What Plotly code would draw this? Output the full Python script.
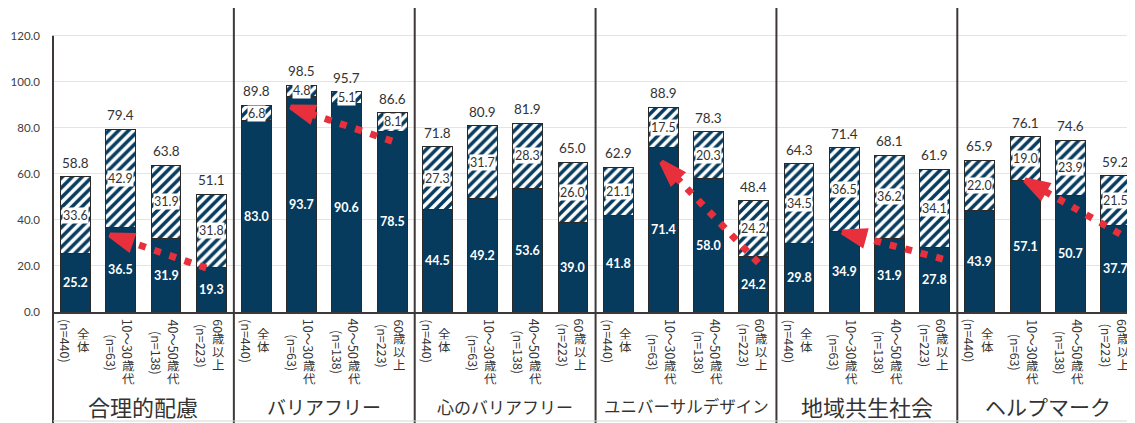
import plotly.graph_objects as go

# survey categories and age bands
GROUPS = ["合理的配慮", "バリアフリー", "心のバリアフリー",
          "ユニバーサルデザイン", "地域共生社会", "ヘルプマーク"]
AGES = ["全体", "10～30歳代", "40～50歳代", "60歳以上"]
N_SIZES = [440, 63, 138, 223]

# navy part (solid) and hatched part, per group, per age band
SOLID = [
    [25.2, 36.5, 31.9, 19.3],
    [83.0, 93.7, 90.6, 78.5],
    [44.5, 49.2, 53.6, 39.0],
    [41.8, 71.4, 58.0, 24.2],
    [29.8, 34.9, 31.9, 27.8],
    [43.9, 57.1, 50.7, 37.7],
]
HATCHED = [
    [33.6, 42.9, 31.9, 31.8],
    [6.8, 4.8, 5.1, 8.1],
    [27.3, 31.7, 28.3, 26.0],
    [21.1, 17.5, 20.3, 24.2],
    [34.5, 36.5, 36.2, 34.1],
    [22.0, 19.0, 23.9, 21.5],
]
TOTAL = [
    [58.8, 79.4, 63.8, 51.1],
    [89.8, 98.5, 95.7, 86.6],
    [71.8, 80.9, 81.9, 65.0],
    [62.9, 88.9, 78.3, 48.4],
    [64.3, 71.4, 68.1, 61.9],
    [65.9, 76.1, 74.6, 59.2],
]

# red dotted arrows: group, (from bar, value) -> (to bar, value)
ARROWS = [
    (0, 2.89, 19.1, 0.76, 33.4),
    (1, 3.00, 74.2, 0.76, 89.0),
    (3, 3.10, 21.3, 0.96, 65.1),
    (4, 3.18, 23.0, 0.96, 34.7),
    (5, 3.10, 33.9, 1.00, 57.3),
]

GROUP_FONT = [22, 19, 17, 16.5, 22, 21]

NAVY = "#073B5E"
RED = "#E8303C"
EDGE = "#2a2a2a"
SEP = "#3e3838"
GRID = "#e4e4e4"
TXT = "#333333"
NUM = "Lato, 'Liberation Sans', sans-serif"
JP = "'Noto Sans CJK JP', sans-serif"

YMAX = 132
PLOT_H = 304
# page body keeps its 8px margin, so the figure is 8px smaller than the window
W_PX, H_PX = 1127, 415

xs = [g * 4 + k for g in range(len(GROUPS)) for k in range(len(AGES))]
solid = [v for row in SOLID for v in row]
hatch = [v for row in HATCHED for v in row]
total = [v for row in TOTAL for v in row]

fig = go.Figure()
fig.add_trace(go.Bar(
    x=xs, y=solid, width=0.66, marker=dict(color=NAVY, line=dict(color=EDGE, width=1)),
    hoverinfo="skip", showlegend=False,
))
fig.add_trace(go.Bar(
    x=xs, y=hatch, width=0.66,
    marker=dict(color="white", line=dict(color=EDGE, width=1),
                pattern=dict(shape="/", fgcolor=NAVY, bgcolor="white", fgopacity=1,
                             size=7, solidity=0.5)),
    hoverinfo="skip", showlegend=False,
))

for g, fx, fv, tx, tv in ARROWS:
    fig.add_trace(go.Scatter(
        x=[g * 4 + fx, g * 4 + tx], y=[fv, tv], mode="lines+markers", opacity=1,
        line=dict(color=RED, width=7, dash="7px,9px"),
        marker=dict(symbol="arrow", size=[0, 23], angleref="previous", color=RED, opacity=1,
                    line=dict(color=RED, width=5)),
        hoverinfo="skip", showlegend=False,
    ))

ann = []
for x, s, h, t in zip(xs, solid, hatch, total):
    ann.append(dict(x=x, y=s / 2, text=f"{s:.1f}", showarrow=False,
                    font=dict(family=NUM, size=12.5, color="white", weight="bold")))
    ann.append(dict(x=x, y=s + h / 2, text=f"{h:.1f}", showarrow=False, bgcolor="white",
                    borderpad=0, font=dict(family=NUM, size=12.5, color=TXT)))
    ann.append(dict(x=x, y=t, text=f"{t:.1f}", showarrow=False, yanchor="bottom", yshift=4,
                    font=dict(family=NUM, size=13.5, color=TXT)))


# vertical (tategaki-like) category labels: latin runs rotated, kana/kanji upright
FS = 12.5


def upright(c):
    return "\u3040" <= c <= "\u9fff"


def char_w(c):
    if ord(c) > 0x2000:
        return FS
    if c in "()":
        return 0.32 * FS
    return 0.56 * FS


def segments(text):
    out = []
    for c in text:
        kind = upright(c)
        if out and out[-1][0] == kind:
            out[-1][1] += c
        else:
            out.append([kind, c])
    res = []
    for kind, s in out:
        ln = len(s) * FS * 1.02 if kind else sum(char_w(c) for c in s)
        res.append((kind, s, ln))
    return res


def column(x, dx, segs, start):
    pos = start
    for kind, s, ln in segs:
        if kind:
            step = ln / len(s)
            for i, c in enumerate(s):
                ann.append(dict(x=x, y=0, yref="paper", text=c, showarrow=False,
                                xshift=dx, yanchor="middle", yshift=-(pos + step * (i + 0.5)),
                                height=step - 0.5, borderpad=0,
                                font=dict(family=JP, size=FS, color=TXT)))
        else:
            ann.append(dict(x=x, y=0, yref="paper", text=s, showarrow=False, textangle=90,
                            xshift=dx, yanchor="top", yshift=-pos, borderpad=0,
                            font=dict(family=JP, size=FS, color=TXT)))
        pos += ln


TOP = 6
for g in range(len(GROUPS)):
    for k, age in enumerate(AGES):
        x = g * 4 + k
        main = segments(age)
        nlab = segments(f"({'n=' + str(N_SIZES[k])})")
        lm = sum(s[2] for s in main)
        ln = sum(s[2] for s in nlab)
        block = max(lm, ln)
        column(x, 7.5, main, TOP + (block - lm) / 2)
        column(x, -9.5, nlab, TOP + (block - ln) / 2)
    ann.append(dict(x=g * 4 + 1.5, y=0, yref="paper", text=GROUPS[g], showarrow=False,
                    yanchor="middle", yshift=-94,
                    font=dict(family=JP, size=GROUP_FONT[g], color=TXT)))

bottom = -(H_PX - PLOT_H) / PLOT_H
shapes = [dict(type="line", xref="paper", yref="paper", x0=0, x1=0,
               y0=120 / YMAX, y1=bottom, line=dict(color=SEP, width=2))]
for g in range(1, len(GROUPS)):
    shapes.append(dict(type="line", xref="x", yref="paper", x0=g * 4 - 0.5, x1=g * 4 - 0.5,
                       y0=1, y1=bottom, line=dict(color=SEP, width=2)))
shapes.append(dict(type="line", xref="paper", yref="paper", x0=0, x1=1,
                   y0=-(H_PX - PLOT_H - 2) / PLOT_H, y1=-(H_PX - PLOT_H - 2) / PLOT_H,
                   line=dict(color="#d6d6d6", width=1)))

fig.update_layout(
    width=W_PX, height=H_PX, barmode="stack",
    plot_bgcolor="white", paper_bgcolor="white",
    margin=dict(l=45, r=0, t=0, b=111),
    annotations=ann, shapes=shapes,
    xaxis=dict(range=[-0.5, 23.43], showticklabels=False, showgrid=False, zeroline=False,
               showline=True, linecolor=SEP, linewidth=1.5, fixedrange=True),
    yaxis=dict(range=[0, YMAX], tickvals=[0, 20, 40, 60, 80, 100, 120], tickformat=".1f",
               showgrid=True, gridcolor=GRID, gridwidth=1, zeroline=False, showline=False,
               ticklabelstandoff=12, tickfont=dict(family=NUM, size=11.5, color="#404040"),
               fixedrange=True),
)

fig.write_html("out.html")
